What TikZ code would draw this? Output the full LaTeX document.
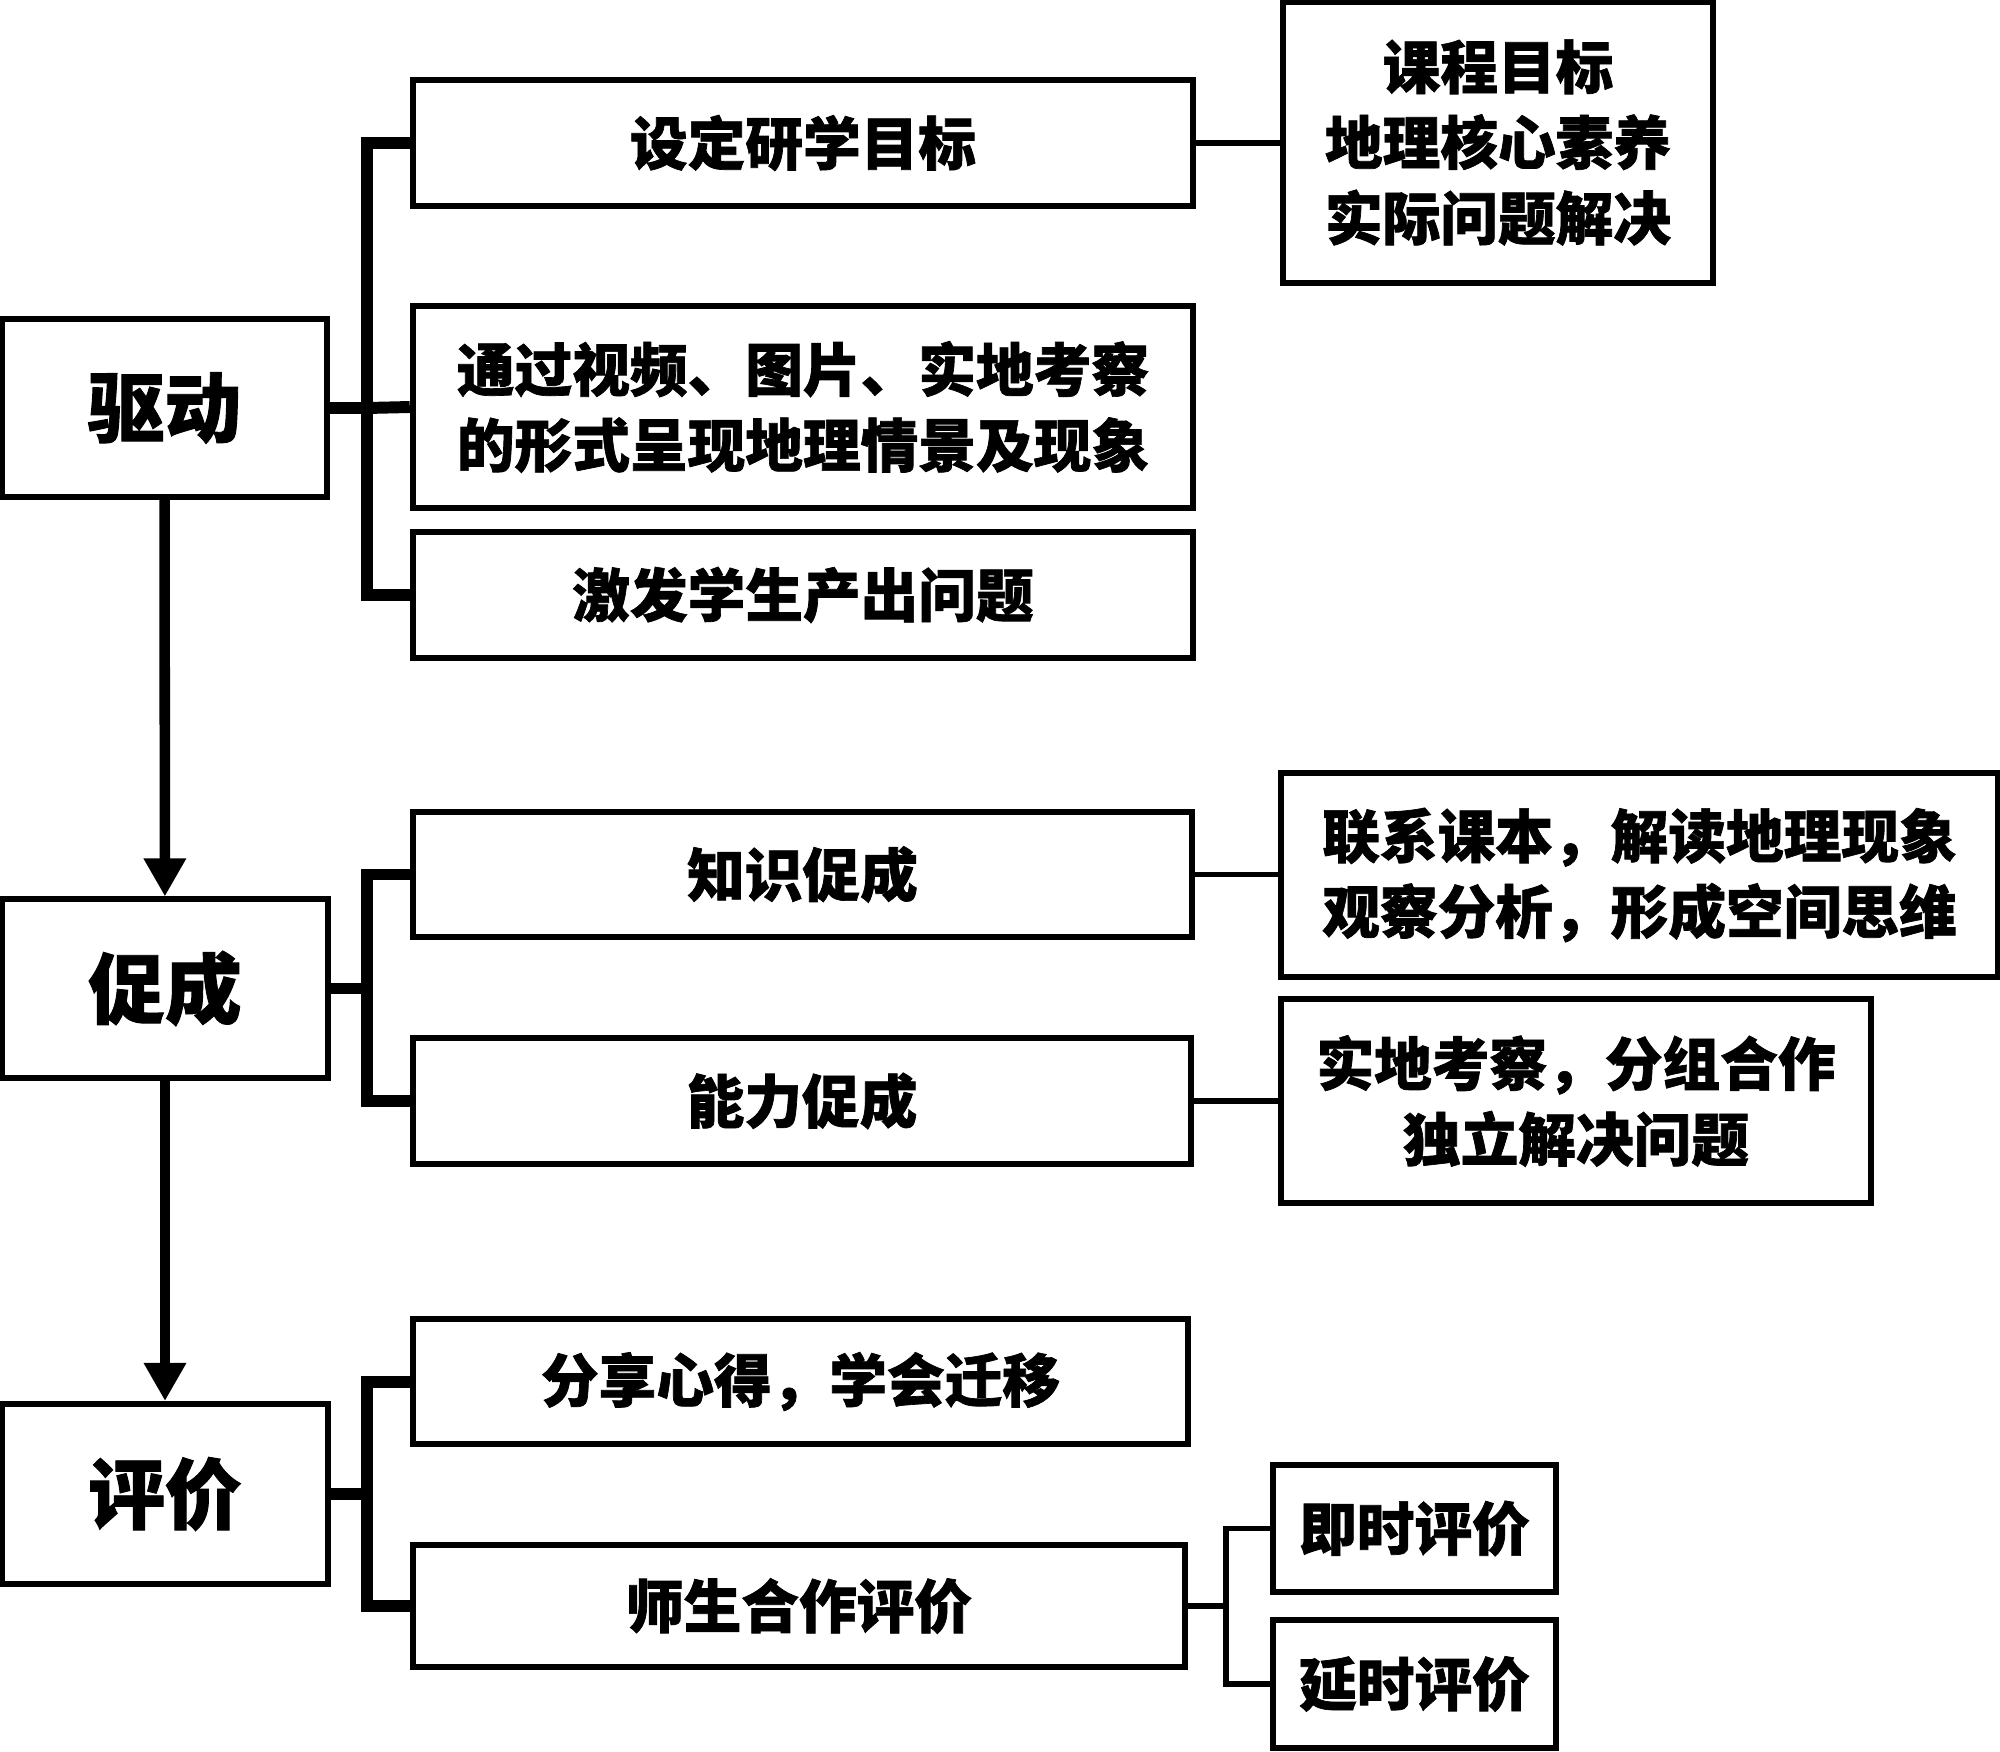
\documentclass[tikz,border=0pt]{standalone}
\usepackage{fontspec}
\setmainfont{Noto Sans CJK SC}[BoldFeatures={FakeBold=1.2}]
\usetikzlibrary{arrows.meta}
\begin{document}
\begin{tikzpicture}[x=0.01cm,y=-0.01cm]
        % Styles
        \tikzstyle{box}=[draw,line width=1.7pt,inner sep=0pt,align=center,font=\bfseries\fontsize{16.4}{21.5}\selectfont]
        \tikzstyle{stage box}=[box,minimum width=3.25cm,minimum height=1.78cm,font=\bfseries\fontsize{21.8}{26}\selectfont]
        \tikzstyle{bus line}=[line width=3.4pt]
        \tikzstyle{thin line}=[line width=1.5pt]
        \tikzstyle{flow line}=[line width=3pt,-{Triangle[width=0.4cm,length=0.38cm]}]
        \useasboundingbox (0,0) rectangle (2000,1751);
        %stages
        \node[stage box] (qd) at (164.5,408) {驱动};
        \node[stage box] (cc) at (165,988.5) {促成};
        \node[stage box,minimum height=1.8cm] (pj) at (165,1494) {评价};
        %middle column
        \node[box,minimum width=7.8cm,minimum height=1.26cm] (mb1) at (803,143) {设定研学目标};
        \node[box,minimum width=7.8cm,minimum height=2.02cm] (mb2) at (803,407) {通过视频、图片、实地考察\\的形式呈现地理情景及现象};
        \node[box,minimum width=7.8cm,minimum height=1.26cm] (mb3) at (803,595) {激发学生产出问题};
        \node[box,minimum width=7.79cm,minimum height=1.25cm] (zs) at (802.5,874.5) {知识促成};
        \node[box,minimum width=7.78cm,minimum height=1.26cm] (nl) at (802,1101) {能力促成};
        \node[box,minimum width=7.75cm,minimum height=1.25cm] (fx) at (800.5,1381.5) {分享心得，学会迁移};
        \node[box,minimum width=7.72cm,minimum height=1.22cm] (ss) at (799,1606) {师生合作评价};
        %right column
        \node[box,minimum width=4.3cm,minimum height=2.81cm] (kc) at (1498,142.5) {课程目标\\地理核心素养\\实际问题解决};
        \node[box,minimum width=7.17cm,minimum height=2.04cm] (lx) at (1639.5,875) {联系课本，解读地理现象\\观察分析，形成空间思维};
        \node[box,minimum width=5.9cm,minimum height=2.04cm] (sd) at (1576,1101) {实地考察，分组合作\\独立解决问题};
        \node[box,minimum width=2.83cm,minimum height=1.27cm] (js) at (1414.5,1528.5) {即时评价};
        \node[box,minimum width=2.83cm,minimum height=1.28cm] (ys) at (1414.5,1684) {延时评价};
        %buses
        \coordinate (b1) at (367,408);
        \coordinate (b2) at (367,988.5);
        \coordinate (b3) at (367,1494);
        \coordinate (b4) at (1226,1606);
        \draw[bus line] (qd) -- (b1);
        \draw[bus line] (mb1.west) -| (b1) |- (mb3.west);
        \draw[bus line] (b1) -- (mb2.west);
        \draw[bus line] (cc) -- (b2);
        \draw[bus line] (zs.west) -| (b2) |- (nl.west);
        \draw[bus line] (pj) -- (b3);
        \draw[bus line] (fx.west) -| (b3) |- (ss.west);
        %side links
        \draw[thin line] (mb1.east) -- (kc.west |- mb1.east);
        \draw[thin line] (zs.east) -- (lx.west |- zs.east);
        \draw[thin line] (nl.east) -- (sd.west |- nl.east);
        \draw[thin line] (ss) -- (b4);
        \draw[thin line] (js.west) -| (b4) |- (ys.west);
        %flow
        \draw[flow line] (qd) -- (cc);
        \draw[flow line] (cc) -- (pj);
\end{tikzpicture}
\end{document}
